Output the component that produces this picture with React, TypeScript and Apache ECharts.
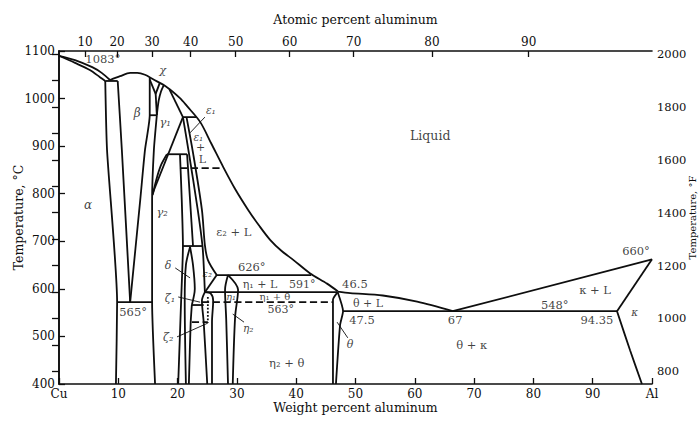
import React, { useEffect, useRef } from 'react';
import * as echarts from 'echarts';

const FONT = '"DejaVu Serif", "Liberation Serif", serif';
const INK = '#0e0e0e';

// ---- axes ----
const atomicPct = [10, 20, 30, 40, 50, 60, 70, 80, 90];
const atomicPctAtWt = [4.4, 9.8, 15.7, 22.2, 29.8, 38.9, 49.7, 62.9, 79.2];
const fahrenheitTicks = [800, 900, 1000, 1100, 1200, 1300, 1400, 1500, 1600, 1700, 1800, 1900, 2000];
const fahrenheitLabels = [800, 1000, 1200, 1400, 1600, 1800, 2000];

// ---- phase boundaries [wt% Al, °C] ----
const liquidus = [[8.6, 1039], [10.3, 1047], [12.0, 1054], [13.2, 1054], [14.5, 1050], [15.8, 1041], [18.2, 1024], [20.4, 1001], [21.6, 984], [23.8, 951], [25.7, 905], [27.7, 856], [29.7, 810], [31.9, 766], [33.8, 732], [35.6, 703], [37.5, 680], [39.5, 661], [42.3, 633], [45.2, 611], [47.0, 595]];
const cuLiquidus = [[0, 1090], [2.7, 1081], [5.6, 1066], [7.2, 1054], [8.6, 1039]];
const cuSolidus = [[0, 1090], [2.7, 1075], [5.2, 1060], [6.9, 1045], [7.8, 1037]];
const eutectic1037 = [[7.8, 1037], [9.9, 1037]];
const alphaSolvus = [[7.8, 1037], [8.1, 892], [9.8, 572], [9.6, 400]];
const eutectoid565 = [[9.8, 572], [15.7, 572]];
const betaLeft = [[9.9, 1037], [10.6, 892], [12.0, 572]];
const betaRight = [[15.3, 1043], [15.3, 965], [14.5, 892], [13.7, 787], [12.0, 572]];
const line965 = [[15.3, 965], [16.5, 965]];
const chiLeft = [[15.3, 1040], [16.3, 1010]];
const chiRight = [[16.3, 1010], [17.0, 1033]];
const chiStem = [[16.3, 1010], [16.5, 965]];
const gammaLeft = [[16.5, 965], [16.0, 892], [15.7, 787], [15.7, 572], [16.2, 400]];
const gamma1Left = [[16.5, 965], [16.8, 995], [17.2, 1015], [17.7, 1029]];
const gamma1Right = [[18.6, 1020], [20.9, 961]];
const line961 = [[20.9, 961], [23.1, 961]];
const gamma1Diag = [[15.8, 801], [20.9, 961]];
const gamma1Curve = [[15.8, 797], [16.4, 829], [17.2, 860], [18.2, 883]];
const line881 = [[18.2, 883], [21.6, 883]];
const epsBandA = [[20.9, 961], [21.9, 886], [23.4, 766], [24.2, 690], [24.4, 650], [24.6, 593]];
const epsBandB = [[21.5, 961], [22.6, 886], [24.1, 766], [24.6, 692], [25.1, 661], [26.6, 629]];
const line626 = [[26.6, 629], [42.5, 629]];
const eps2ToZeta = [[26.6, 629], [24.6, 593]];
const line591 = [[24.6, 593], [47.0, 593]];
const dashed563 = [[24.1, 572], [46.2, 572]];
const dashed854 = [[20.4, 854], [27.7, 854]];
const gamma2Right = [[20.4, 883], [20.7, 787], [20.9, 690], [20.6, 577], [20.1, 400]];
const deltaUpper = [[21.6, 883], [22.1, 787], [22.6, 690]];
const deltaTop = [[20.9, 690], [24.2, 690]];
const deltaLeft = [[22.1, 688], [21.4, 650], [21.2, 577], [21.4, 400]];
const deltaRight = [[22.1, 688], [22.6, 650], [22.9, 600], [22.4, 566]];
const zeta2Top = [[22.4, 566], [24.4, 566]];
const zeta2Left = [[22.4, 566], [22.2, 528], [21.9, 400]];
const zeta2Dashed = [[22.4, 530], [25.1, 530]];
const zetaDotted = [[25.1, 583], [25.1, 528]];
const zetaLeft = [[24.6, 593], [24.1, 575], [24.4, 530], [25.0, 400]];
const zetaRight = [[24.6, 593], [25.6, 590], [26.0, 575], [25.8, 530], [25.8, 400]];
const eta1Left = [[28.5, 629], [28.0, 598], [28.2, 535], [28.5, 400]];
const eta1Right = [[28.5, 629], [30.2, 598], [29.7, 541], [29.3, 400]];
const thetaLeft = [[47.0, 593], [46.2, 577], [46.2, 400]];
const thetaRight = [[47.0, 593], [47.9, 553], [47.4, 524], [46.7, 400]];
const thetaLiquidus = [[47.0, 594], [49.1, 591], [54.6, 586], [60.4, 573], [66.4, 553]];
const line548 = [[47.9, 553], [94.1, 553]];
const alLiquidus = [[66.4, 553], [100, 662]];
const kappaSolidus = [[94.1, 553], [100, 662]];
const kappaSolvus = [[94.1, 553], [96.3, 471], [98.3, 400]];

// ---- leader lines ----
const leaderEps1 = [[22.1, 928], [24.6, 961]];
const leaderDelta = [[19.6, 644], [22.1, 623]];
const leaderZeta1 = [[20.1, 583], [23.8, 572]];
const leaderZeta2 = [[19.9, 499], [25.1, 528]];
const leaderEta2 = [[31.2, 530], [29.3, 547]];
const leaderTheta = [[48.7, 497], [46.9, 530]];

// ---- region / point labels [wt%, °C, text, italic?, size] ----
const labels: [number, number, string, number, number][] = [
  [7.4, 1083, '1083°', 0, 11.5],
  [17.5, 1060, 'χ', 1, 11.5],
  [13.2, 970, 'β', 1, 12],
  [17.9, 950, 'γ₁', 1, 11.5],
  [25.6, 975, 'ε₁', 1, 10.5],
  [23.5, 920, 'ε₁', 1, 10.5],
  [23.9, 897, '+', 0, 11],
  [24.2, 872, 'L', 0, 11],
  [4.9, 776, 'α', 1, 12],
  [17.4, 762, 'γ₂', 1, 11.5],
  [62.6, 923, 'Liquid', 0, 12.5],
  [29.5, 720, 'ε₂ + L', 0, 11.5],
  [18.4, 650, 'δ', 1, 11],
  [25.0, 633, 'ε₂', 1, 10],
  [32.5, 645, '626°', 0, 11.5],
  [33.9, 609, 'η₁ + L', 0, 11],
  [41.0, 609, '591°', 0, 11],
  [18.7, 580, 'ζ₁', 1, 11],
  [29.0, 583, 'η₁', 1, 9.5],
  [36.4, 583, 'η₁ + θ', 0, 10],
  [37.4, 556, '563°', 0, 11],
  [12.5, 551, '565°', 0, 11.5],
  [18.4, 497, 'ζ₂', 1, 11],
  [31.9, 518, 'η₂', 1, 10.5],
  [38.4, 444, 'η₂ + θ', 0, 11.5],
  [49.9, 610, '46.5', 0, 11.5],
  [52.1, 569, 'θ + L', 0, 11],
  [51.1, 534, '47.5', 0, 11.5],
  [49.1, 482, 'θ', 1, 11],
  [69.6, 482, 'θ + κ', 0, 11.5],
  [66.8, 534, '67', 0, 11.5],
  [83.6, 567, '548°', 0, 11.5],
  [90.7, 534, '94.35', 0, 11.5],
  [90.4, 598, 'κ + L', 0, 11.5],
  [97.1, 551, 'κ', 1, 10.5],
  [97.3, 679, '660°', 0, 11.5],
];

type Bound = { data: number[][]; smooth?: number; type?: 'solid' | 'dashed' | 'dotted'; width?: number };

const boundaries: Bound[] = [
  { data: liquidus, smooth: 0.3 },
  { data: cuLiquidus, smooth: 0.3 },
  { data: cuSolidus, smooth: 0.3 },
  { data: eutectic1037 },
  { data: alphaSolvus, smooth: 0.2 },
  { data: eutectoid565 },
  { data: betaLeft, smooth: 0.2 },
  { data: betaRight, smooth: 0.2 },
  { data: line965 },
  { data: chiLeft },
  { data: chiRight },
  { data: chiStem },
  { data: gammaLeft, smooth: 0.2 },
  { data: gamma1Left, smooth: 0.3 },
  { data: gamma1Right },
  { data: line961 },
  { data: gamma1Diag },
  { data: gamma1Curve, smooth: 0.3 },
  { data: line881 },
  { data: epsBandA, smooth: 0.3 },
  { data: epsBandB, smooth: 0.3 },
  { data: line626 },
  { data: eps2ToZeta },
  { data: line591 },
  { data: dashed563, type: 'dashed' },
  { data: dashed854, type: 'dashed' },
  { data: gamma2Right, smooth: 0.2 },
  { data: deltaUpper, smooth: 0.2 },
  { data: deltaTop },
  { data: deltaLeft, smooth: 0.3 },
  { data: deltaRight, smooth: 0.3 },
  { data: zeta2Top },
  { data: zeta2Left, smooth: 0.2 },
  { data: zeta2Dashed, type: 'dashed' },
  { data: zetaDotted, type: 'dotted' },
  { data: zetaLeft, smooth: 0.3 },
  { data: zetaRight, smooth: 0.3 },
  { data: eta1Left, smooth: 0.3 },
  { data: eta1Right, smooth: 0.3 },
  { data: thetaLeft, smooth: 0.2 },
  { data: thetaRight, smooth: 0.2 },
  { data: thetaLiquidus, smooth: 0.3 },
  { data: line548 },
  { data: alLiquidus },
  { data: kappaSolidus },
  { data: kappaSolvus, smooth: 0.3 },
  { data: leaderEps1, width: 0.9 },
  { data: leaderDelta, width: 0.9 },
  { data: leaderZeta1, width: 0.9 },
  { data: leaderZeta2, width: 0.9 },
  { data: leaderEta2, width: 0.9 },
  { data: leaderTheta, width: 0.9 },
];

export default function App() {
  const ref = useRef<HTMLDivElement>(null);

  useEffect(() => {
    if (!ref.current) return;
    const chart = echarts.init(ref.current, null, { renderer: 'svg' });

    const axisLine = { show: true, lineStyle: { color: INK, width: 1.6 } };
    const axisText = { color: INK, fontFamily: FONT, fontSize: 12 };
    const nameText = { color: INK, fontFamily: FONT, fontSize: 12.5 };

    const lineSeries = boundaries.map((b) => ({
      type: 'line',
      data: b.data,
      xAxisIndex: 0,
      yAxisIndex: 0,
      showSymbol: false,
      symbol: 'none',
      smooth: b.smooth ?? false,
      silent: true,
      lineStyle: { color: INK, width: b.width ?? 1.8, type: b.type ?? 'solid' },
      z: 3,
    }));

    const labelSeries = {
      type: 'scatter',
      xAxisIndex: 0,
      yAxisIndex: 0,
      symbolSize: 0,
      silent: true,
      z: 5,
      data: labels.map(([x, y, text, it, size]) => ({
        value: [x, y],
        name: text,
        label: {
          show: true,
          position: 'inside',
          formatter: '{b}',
          color: INK,
          fontFamily: FONT,
          fontSize: size,
          fontStyle: it ? 'italic' : 'normal',
        },
      })),
    };

    chart.setOption({
      animation: false,
      backgroundColor: '#ffffff',
      grid: { left: 59, right: 48, top: 51, bottom: 37, containLabel: false, outerBoundsMode: 'none' },
      xAxis: [
        {
          type: 'value',
          position: 'bottom',
          min: 0,
          max: 100,
          interval: 10,
          axisLine,
          axisTick: { show: true, inside: true, length: 6, lineStyle: { color: INK, width: 1.3 } },
          axisLabel: {
            ...axisText,
            margin: 4,
            formatter: (v: number) => (v === 0 ? 'Cu' : v === 100 ? 'Al' : String(v)),
          },
          splitLine: { show: false },
          name: 'Weight percent aluminum',
          nameLocation: 'middle',
          nameGap: 17,
          nameMoveOverlap: false,
          nameTextStyle: nameText,
        },
        {
          type: 'value',
          position: 'top',
          min: 0,
          max: 100,
          axisLine,
          axisTick: { show: true, inside: true, length: 6, customValues: atomicPctAtWt, lineStyle: { color: INK, width: 1.3 } },
          axisLabel: {
            ...axisText,
            margin: 3,
            customValues: atomicPctAtWt,
            formatter: (v: number) => {
              const i = atomicPctAtWt.indexOf(v);
              return i >= 0 ? String(atomicPct[i]) : '';
            },
          },
          splitLine: { show: false },
          name: 'Atomic percent aluminum',
          nameLocation: 'middle',
          nameGap: 25,
          nameMoveOverlap: false,
          nameTextStyle: nameText,
        },
      ],
      yAxis: [
        {
          type: 'value',
          position: 'left',
          min: 400,
          max: 1100,
          interval: 100,
          axisLine,
          axisTick: { show: true, inside: true, length: 6, lineStyle: { color: INK, width: 1.3 } },
          axisLabel: { ...axisText, margin: 4, formatter: (v: number) => String(v) },
          splitLine: { show: false },
          name: 'Temperature, °C',
          nameLocation: 'middle',
          nameGap: 34,
          nameRotate: 90,
          nameMoveOverlap: false,
          nameTextStyle: nameText,
        },
        {
          type: 'value',
          position: 'right',
          min: 752,
          max: 2012,
          axisLine,
          axisTick: { show: true, inside: true, length: 7, customValues: fahrenheitTicks, lineStyle: { color: INK, width: 1.3 } },
          axisLabel: { ...axisText, fontSize: 11.5, margin: 5, customValues: fahrenheitLabels, formatter: (v: number) => String(v) },
          splitLine: { show: false },
          name: 'Temperature, °F',
          nameLocation: 'middle',
          nameGap: 35,
          nameRotate: 90,
          nameMoveOverlap: false,
          nameTextStyle: { ...nameText, fontSize: 10 },
        },
      ],
      series: [...lineSeries, labelSeries],
    });

    return () => chart.dispose();
  }, []);

  return (
    <div
      ref={ref}
      style={{ position: 'absolute', left: 0, top: 0, width: 700, height: 421, background: '#fff' }}
    />
  );
}
